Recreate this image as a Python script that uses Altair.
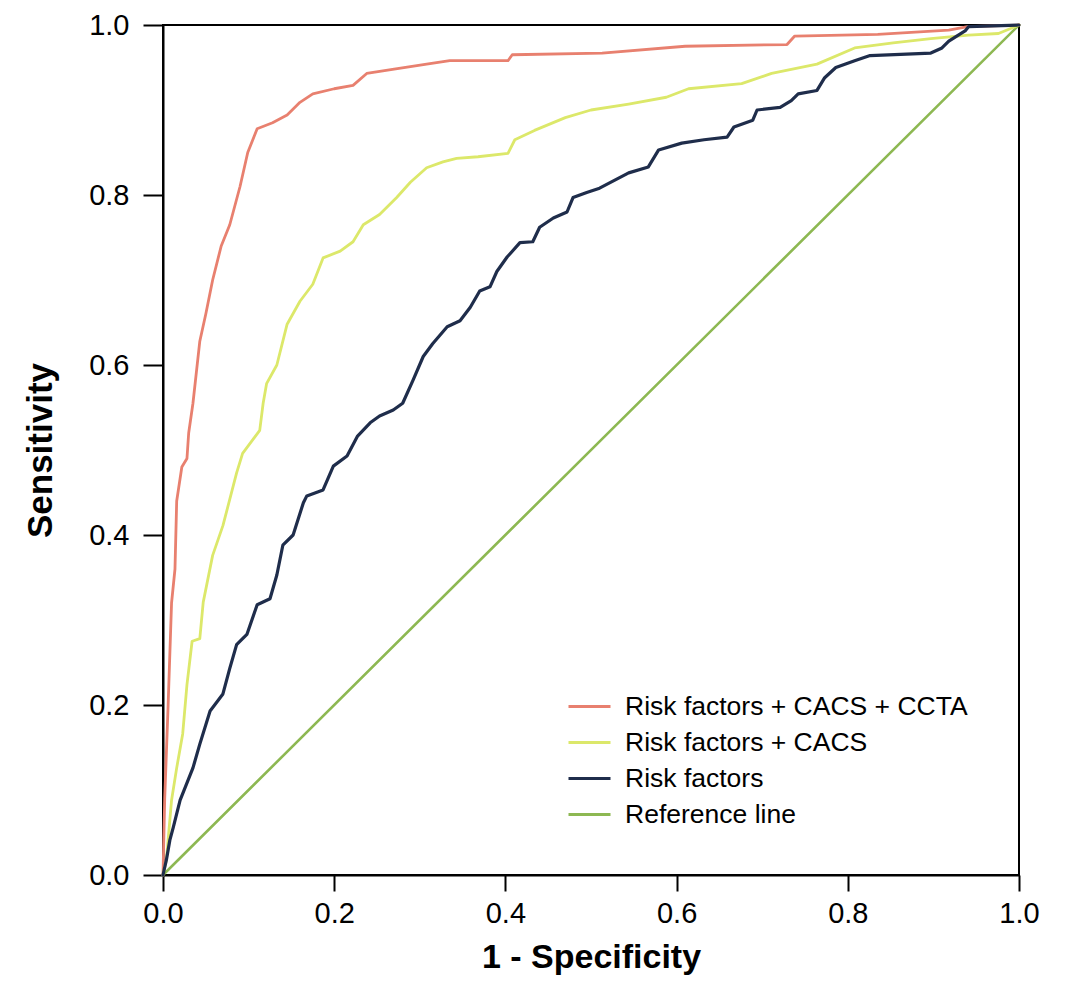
import altair as alt
import pandas as pd

# ---- data ----
series_names = ["Risk factors + CACS + CCTA", "Risk factors + CACS", "Risk factors", "Reference line"]
series_colors = ["#E8806F", "#DCE86A", "#1F2D4B", "#8DB852"]

fpr_ccta = [0, 0.002, 0.006, 0.010, 0.014, 0.016, 0.022, 0.028, 0.030, 0.035, 0.043, 0.050, 0.058,
            0.068, 0.078, 0.090, 0.099, 0.110, 0.128, 0.145, 0.160, 0.175, 0.200, 0.222, 0.238, 0.270,
            0.308, 0.335, 0.403, 0.408, 0.513, 0.610, 0.729, 0.738, 0.835, 0.918, 0.940, 1.0]
tpr_ccta = [0, 0.09, 0.20, 0.32, 0.36, 0.44, 0.48, 0.49, 0.52, 0.555, 0.628, 0.66, 0.70,
            0.74, 0.765, 0.81, 0.85, 0.878, 0.885, 0.894, 0.909, 0.919, 0.925, 0.929, 0.943, 0.948,
            0.954, 0.958, 0.958, 0.965, 0.967, 0.975, 0.977, 0.987, 0.989, 0.994, 0.998, 1.0]

fpr_cacs = [0, 0.004, 0.010, 0.016, 0.023, 0.028, 0.034, 0.043, 0.047, 0.051, 0.058, 0.070, 0.086,
            0.093, 0.113, 0.117, 0.121, 0.133, 0.145, 0.160, 0.175, 0.187, 0.207, 0.222, 0.234, 0.253,
            0.273, 0.289, 0.308, 0.327, 0.343, 0.368, 0.403, 0.411, 0.434, 0.470, 0.500, 0.544, 0.588,
            0.614, 0.676, 0.711, 0.764, 0.808, 0.853, 0.897, 0.941, 0.976, 1.0]
tpr_cacs = [0, 0.018, 0.088, 0.126, 0.166, 0.224, 0.275, 0.278, 0.321, 0.341, 0.376, 0.411, 0.473,
            0.496, 0.523, 0.555, 0.578, 0.600, 0.648, 0.675, 0.695, 0.726, 0.734, 0.745, 0.765, 0.777,
            0.797, 0.815, 0.832, 0.839, 0.843, 0.845, 0.849, 0.865, 0.876, 0.891, 0.900, 0.907, 0.915,
            0.925, 0.931, 0.943, 0.954, 0.973, 0.979, 0.984, 0.988, 0.990, 1.0]

fpr_rf = [0, 0.004, 0.008, 0.012, 0.020, 0.035, 0.043, 0.055, 0.070, 0.078, 0.086, 0.098, 0.110,
          0.125, 0.133, 0.140, 0.152, 0.164, 0.168, 0.187, 0.199, 0.215, 0.227, 0.242, 0.253, 0.269,
          0.280, 0.292, 0.304, 0.315, 0.332, 0.347, 0.359, 0.370, 0.382, 0.390, 0.402, 0.417, 0.432,
          0.440, 0.456, 0.472, 0.479, 0.495, 0.510, 0.544, 0.567, 0.579, 0.606, 0.632, 0.659, 0.667,
          0.689, 0.694, 0.721, 0.734, 0.742, 0.764, 0.773, 0.786, 0.808, 0.826, 0.897, 0.910, 0.918,
          0.937, 0.941, 1.0]
tpr_rf = [0, 0.018, 0.041, 0.056, 0.088, 0.126, 0.154, 0.193, 0.213, 0.243, 0.271, 0.283, 0.318,
          0.325, 0.353, 0.388, 0.400, 0.438, 0.446, 0.453, 0.481, 0.493, 0.516, 0.532, 0.540, 0.547,
          0.555, 0.582, 0.610, 0.625, 0.645, 0.652, 0.668, 0.687, 0.692, 0.710, 0.727, 0.744, 0.745,
          0.762, 0.773, 0.780, 0.797, 0.803, 0.808, 0.826, 0.833, 0.853, 0.861, 0.865, 0.868, 0.880,
          0.888, 0.900, 0.903, 0.911, 0.919, 0.923, 0.938, 0.950, 0.958, 0.964, 0.967, 0.973, 0.981,
          0.993, 0.998, 1.0]

fpr_ref = [0, 1]
tpr_ref = [0, 1]

tick_values = [0.0, 0.2, 0.4, 0.6, 0.8, 1.0]

# ---- build table ----
frames = []
for name, fx, ty in zip(series_names,
                        [fpr_ccta, fpr_cacs, fpr_rf, fpr_ref],
                        [tpr_ccta, tpr_cacs, tpr_rf, tpr_ref]):
    d = pd.DataFrame({"fpr": fx, "tpr": ty})
    d["series"] = name
    d["idx"] = range(len(d))
    frames.append(d)
df = pd.concat(frames, ignore_index=True)

FONT = "Liberation Sans"

color = alt.Color(
    "series:N",
    scale=alt.Scale(domain=series_names, range=series_colors),
    sort=series_names,
    legend=alt.Legend(
        orient="none", legendX=404, legendY=659, title=None,
        symbolType="stroke", symbolSize=1764, symbolStrokeWidth=3,
        labelFontSize=26.5, labelFont=FONT, labelColor="black",
        labelOffset=13, rowPadding=-10, padding=0, labelLimit=600,
    ),
)

x = alt.X("fpr:Q", scale=alt.Scale(domain=[0, 1], nice=False, zero=False),
          axis=alt.Axis(values=tick_values, format=".1f", title="1 - Specificity",
                        tickSize=16, labelPadding=8, titlePadding=12, labelFlush=False,
                        titleFontSize=34))
y = alt.Y("tpr:Q", scale=alt.Scale(domain=[0, 1], nice=False, zero=False),
          axis=alt.Axis(values=tick_values, format=".1f", title="Sensitivity",
                        tickSize=20, labelPadding=14, titlePadding=30, labelFlush=False,
                        titleFontSize=35))

def layer(name, width):
    return alt.Chart(df).transform_filter(alt.datum.series == name).mark_line(
        strokeWidth=width, strokeJoin="round", strokeCap="round"
    ).encode(x=x, y=y, color=color, order="idx:Q")

chart = alt.layer(
    layer("Reference line", 2.6),
    layer("Risk factors + CACS + CCTA", 2.8),
    layer("Risk factors + CACS", 2.8),
    layer("Risk factors", 3.2),
).properties(
    width=856, height=850,
    autosize=alt.AutoSizeParams(type="none"),
    padding={"left": 155, "top": 17, "right": 30, "bottom": 100},
).configure_view(
    stroke="black", strokeWidth=2
).configure_axis(
    grid=False, domainColor="black", domainWidth=2, tickColor="black", tickWidth=2,
    labelFont=FONT, labelFontSize=29, labelColor="black",
    titleFont=FONT, titleFontWeight="bold", titleColor="black",
    labelOverlap=False,
)

chart.save("out.html", embed_options={"renderer": "svg", "actions": False})
